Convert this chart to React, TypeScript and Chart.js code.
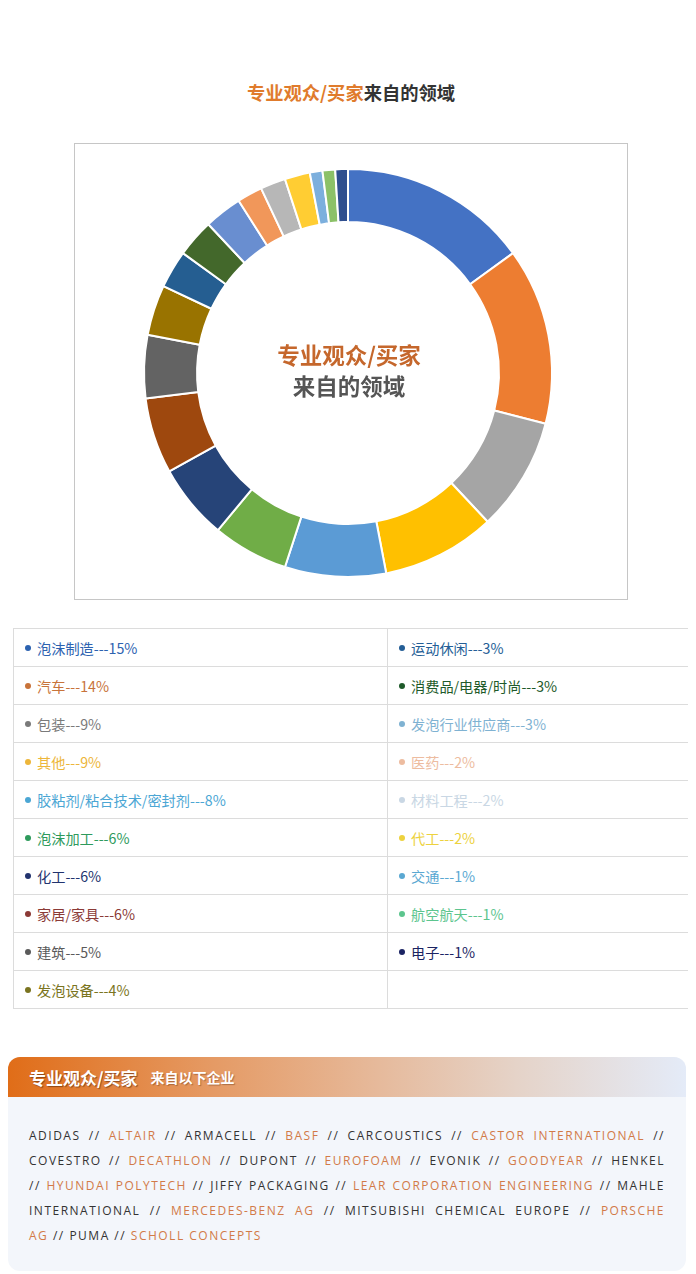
import React, { useEffect, useRef } from "react";
import { Chart, registerables } from "chart.js";
Chart.register(...registerables);

const categories = ["泡沫制造", "汽车", "包装", "其他", "胶粘剂/粘合技术/密封剂", "泡沫加工", "化工", "家居/家具", "建筑", "发泡设备", "运动休闲", "消费品/电器/时尚", "发泡行业供应商", "医药", "材料工程", "代工", "交通", "航空航天", "电子"];
const shares = [15, 14, 9, 9, 8, 6, 6, 6, 5, 4, 3, 3, 3, 2, 2, 2, 1, 1, 1];
const sliceColors = ["#4472C4", "#ED7D31", "#A5A5A5", "#FFC000", "#5B9BD5", "#70AD47", "#264478", "#9E480E", "#636363", "#997300", "#255E91", "#43682B", "#698ED0", "#F1975A", "#B7B7B7", "#FFCD33", "#7CAFDD", "#8CC168", "#2F4F8F"];
const legendColors = ["#2C62B0", "#C8733A", "#7A7A7A", "#EDB63A", "#4BA6D4", "#2E9A5C", "#22336E", "#8B3A36", "#5A5A5A", "#7A7420", "#245E96", "#1E5A2A", "#7FB2D2", "#EDBCA0", "#C9D7E4", "#EDD23E", "#5AA8D2", "#5CC58E", "#1B2463"];
const companies = ["ADIDAS", "ALTAIR", "ARMACELL", "BASF", "CARCOUSTICS", "CASTOR INTERNATIONAL", "COVESTRO", "DECATHLON", "DUPONT", "EUROFOAM", "EVONIK", "GOODYEAR", "HENKEL", "HYUNDAI POLYTECH", "JIFFY PACKAGING", "LEAR CORPORATION ENGINEERING", "MAHLE INTERNATIONAL", "MERCEDES-BENZ AG", "MITSUBISHI CHEMICAL EUROPE", "PORSCHE AG", "PUMA", "SCHOLL CONCEPTS"];
const wordsPerLine = [13, 13, 12, 10];

const CJK = '"Noto Sans CJK SC", "Noto Sans", sans-serif';

function DonutChart() {
  const ref = useRef<HTMLCanvasElement>(null);
  useEffect(() => {
    if (!ref.current) return;
    const chart = new Chart(ref.current, {
      type: "doughnut",
      data: {
        labels: categories,
        datasets: [
          {
            data: shares,
            backgroundColor: sliceColors,
            borderColor: "#ffffff",
            borderWidth: 2,
          },
        ],
      },
      options: {
        responsive: false,
        animation: false,
        cutout: "74%",
        layout: { padding: { left: 20, right: 26, top: 24, bottom: 21 } },
        plugins: { legend: { display: false }, tooltip: { enabled: false } },
      },
    });
    return () => chart.destroy();
  }, []);
  return <canvas ref={ref} width={552} height={455} style={{ display: "block" }} />;
}

export default function App() {
  const orange = "#E07B2C";
  const words: { t: string; c: string }[] = [];
  companies.forEach((name, i) => {
    if (i > 0) words.push({ t: "//", c: "#333" });
    name.split(" ").forEach((w) => words.push({ t: w, c: i % 2 === 1 ? "#D27A48" : "#333" }));
  });
  const lines: { t: string; c: string }[][] = [];
  let idx = 0;
  wordsPerLine.forEach((n) => {
    lines.push(words.slice(idx, idx + n));
    idx += n;
  });
  lines.push(words.slice(idx));

  const leftItems = categories.slice(0, 10).map((_, i) => i);
  const rightItems = categories.slice(10).map((_, i) => i + 10);
  const cell = (i: number | undefined, w: number) => (
    <div
      style={{
        width: w,
        height: 38,
        borderRight: "1px solid #dcdcdc",
        borderBottom: "1px solid #dcdcdc",
        paddingLeft: 11,
        fontSize: 14.2,
        color: i === undefined ? "#000" : legendColors[i],
        boxSizing: "border-box",
        whiteSpace: "nowrap",
        display: "flex",
        alignItems: "center",
      }}
    >
      {i !== undefined && (
        <>
          <span
            style={{
              display: "inline-block",
              width: 6,
              height: 6,
              borderRadius: 3,
              background: legendColors[i],
              marginRight: 6,
            }}
          />
          <span>{categories[i] + "---" + shares[i] + "%"}</span>
        </>
      )}
    </div>
  );

  return (
    <div style={{ position: "relative", width: 680, height: 1266, fontFamily: CJK, background: "#fff" }}>
      <div
        style={{
          position: "absolute",
          left: 0,
          width: 686,
          top: 72,
          textAlign: "center",
          fontSize: 18.3,
          fontWeight: 700,
          color: "#333",
          lineHeight: "24px",
        }}
      >
        <span style={{ color: orange }}>专业观众/买家</span>来自的领域
      </div>

      <div
        style={{
          position: "absolute",
          left: 66,
          top: 135,
          width: 554,
          height: 457,
          border: "1px solid #c6c6c6",
          boxSizing: "border-box",
        }}
      >
        <DonutChart />
        <div
          style={{
            position: "absolute",
            left: 0,
            width: 548,
            top: 195,
            textAlign: "center",
            fontSize: 22.5,
            fontWeight: 700,
            lineHeight: "31px",
          }}
        >
          <div style={{ color: "#C5672C" }}>专业观众/买家</div>
          <div style={{ color: "#555" }}>来自的领域</div>
        </div>
      </div>

      <div
        style={{
          position: "absolute",
          left: 5,
          top: 620,
          width: 677,
          borderLeft: "1px solid #dcdcdc",
          borderTop: "1px solid #dcdcdc",
          boxSizing: "border-box",
        }}
      >
        {leftItems.map((li, r) => (
          <div key={r} style={{ display: "flex" }}>
            {cell(li, 374)}
            {cell(rightItems[r], 302)}
          </div>
        ))}
      </div>

      <div
        style={{
          position: "absolute",
          left: 0,
          top: 1049,
          width: 678,
          height: 214,
          borderRadius: 12,
          overflow: "hidden",
          background: "#F3F6FB",
        }}
      >
        <div
          style={{
            height: 40,
            background: "linear-gradient(90deg, #E06D18 0%, #E59A64 30%, #E6BA9C 55%, #E5D3C8 75%, #E4EBF8 100%)",
            display: "flex",
            alignItems: "center",
            paddingLeft: 21,
            color: "#fff",
            fontWeight: 700,
          }}
        >
          <span style={{ fontSize: 17, textShadow: "1px 1px 1px rgba(90,40,10,0.6)" }}>专业观众/买家</span>
          <span style={{ fontSize: 14, marginLeft: 13, textShadow: "1px 1px 1px rgba(90,40,10,0.4)" }}>来自以下企业</span>
        </div>
        <div style={{ padding: "26px 21px 0 21px", fontFamily: '"Open Sans", "Noto Sans", sans-serif' }}>
          {lines.map((ln, li) => (
            <div
              key={li}
              style={{
                fontSize: 12,
                letterSpacing: 1.5,
                lineHeight: "25px",
                textAlign: "justify",
                textAlignLast: li < lines.length - 1 ? "justify" : "left",
                whiteSpace: "normal",
              }}
            >
              {ln.map((w, wi) => (
                <React.Fragment key={wi}>
                  <span style={{ color: w.c }}>{w.t}</span>
                  {wi < ln.length - 1 ? " " : ""}
                </React.Fragment>
              ))}
            </div>
          ))}
        </div>
      </div>
    </div>
  );
}
